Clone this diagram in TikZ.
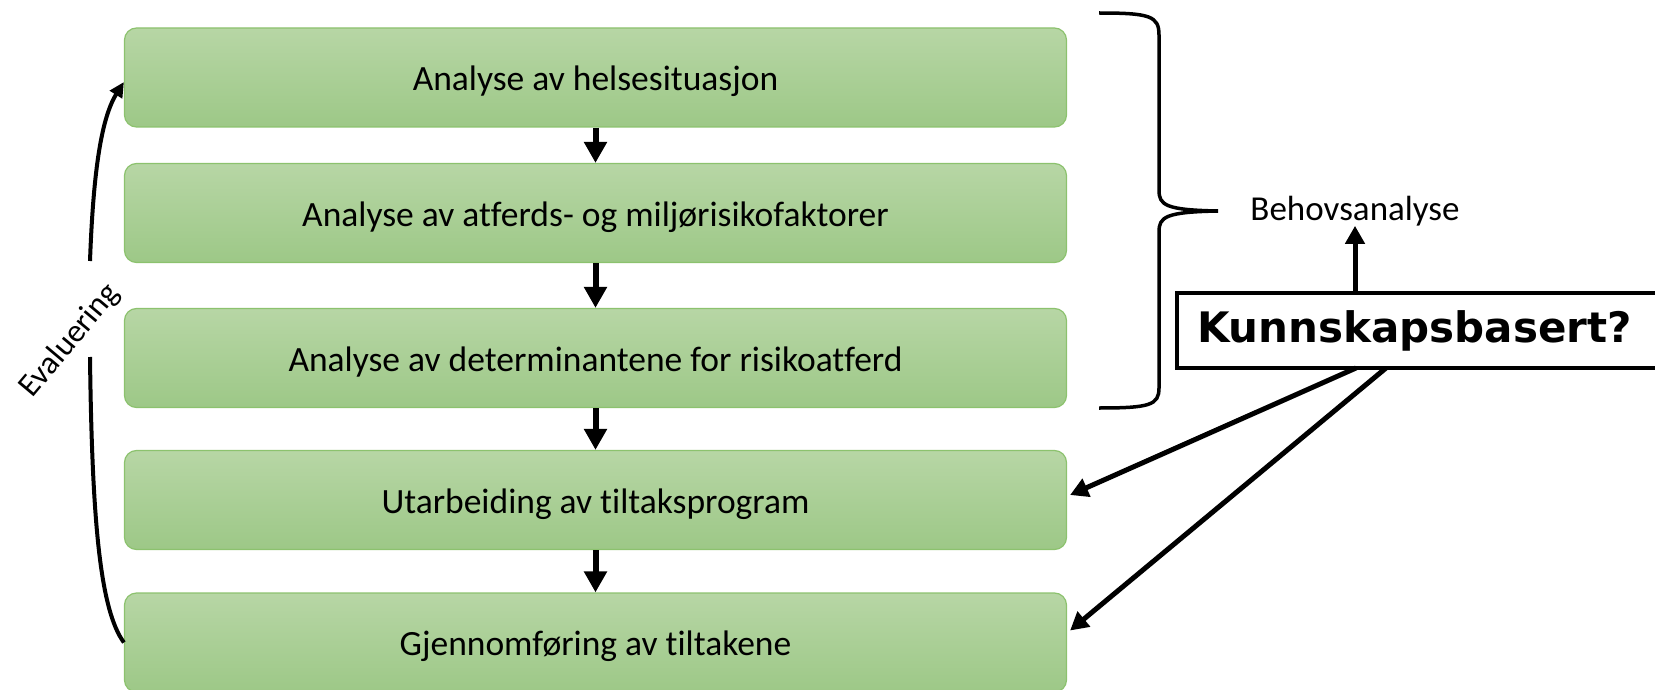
\documentclass[tikz,border=0pt]{standalone}
\usepackage{fontspec}
\setmainfont{Carlito}[Ligatures=NoCommon]
\newfontfamily\kbfont{DejaVu Sans}
\usetikzlibrary{arrows.meta,calc}
\definecolor{gtop}{RGB}{183,214,165}
\definecolor{gbot}{RGB}{157,200,135}
\definecolor{gline}{RGB}{140,194,110}
\begin{document}
\begin{tikzpicture}[x=1pt,y=-1pt,
  stage/.style={draw=gline, line width=1.2pt, rounded corners=12pt,
    top color=gtop, bottom color=gbot, minimum width=942pt, minimum height=99pt,
    inner sep=0pt, text height=33pt, text depth=7pt,
    font=\fontsize{35.5}{42}\selectfont},
  flow/.style={line width=6pt, -{Triangle[length=21pt,width=22pt]}},
  thinflow/.style={line width=5pt, -{Triangle[length=18pt,width=19pt]}},
  evarrow/.style={line width=4pt, -{Triangle[length=15pt,width=14pt]}},
  evline/.style={line width=4pt},
  kbox/.style={draw, line width=4pt, fill=white, minimum height=75pt,
    text width=450pt, align=left, inner xsep=20pt, inner ysep=0pt,
    font=\kbfont\bfseries\fontsize{42}{48}\selectfont},
  lbl/.style={inner sep=0pt, font=\fontsize{35}{42}\selectfont}]
\path[use as bounding box] (0,0) rectangle (1655,690);
\clip (0,0) rectangle (1655,690);

\node[stage] (s1) at (595.5,77.5) {Analyse av helsesituasjon};
\node[stage] (s2) at (595.5,213) {Analyse av atferds- og miljørisikofaktorer};
\node[stage] (s3) at (595.5,358) {Analyse av determinantene for risikoatferd};
\node[stage] (s4) at (595.5,500) {Utarbeiding av tiltaksprogram};
\node[stage] (s5) at (595.5,642.5) {Gjennomføring av tiltakene};

\draw[flow] (s1.south) -- (s2.north);
\draw[flow] (s2.south) -- (s3.north);
\draw[flow] (s3.south) -- (s4.north);
\draw[flow] (s4.south) -- (s5.north);

% brace
\draw[line width=3.5pt]
  (1099,13) .. controls (1150,13) and (1159,16) .. (1159,35)
  -- (1159,190) .. controls (1159,205) and (1165,210) .. (1218,211)
  .. controls (1165,212) and (1159,217) .. (1159,232)
  -- (1159,388) .. controls (1159,405) and (1150,408) .. (1099,408);

\node[lbl, anchor=base] (beh) at (1355,220) {Behovsanalyse};
\node[kbox, anchor=west] (kb) at (1175,330.5) {Kunnskapsbasert?};

\draw[thinflow] (kb.north -| beh.south) -- (beh.south);

\coordinate (k1) at (1356,368);
\coordinate (k2) at (1386,368);
\draw[thinflow] (k1) -- ([shift={(3,-5)}]s4.east);
\draw[thinflow] (k2) -- ([shift={(3,-12)}]s5.east);

% evaluation loop
\node[lbl, rotate=50, font=\fontsize{32.5}{40}\selectfont] (ev) at (70,341) {Evaluering};
\coordinate (evlow) at (90,357);
\coordinate (evhigh) at (90,261);
\draw[evline] (s5.west) .. controls (100,610) and (92,520) .. (evlow);
\draw[evarrow] (evhigh) .. controls (93,180) and (100,120) .. ([yshift=-4.5pt]s1.west);
\end{tikzpicture}
\end{document}
